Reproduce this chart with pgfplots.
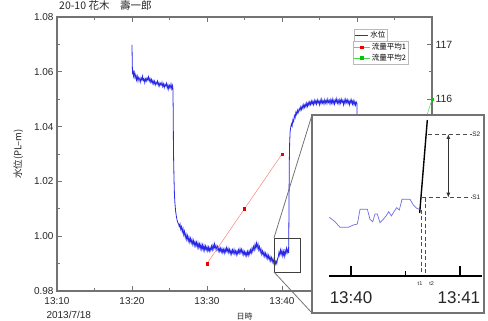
\documentclass[border=0pt]{standalone}
\usepackage{fontspec}
\setmainfont{Liberation Sans}
\newfontfamily\cjk{Noto Sans CJK JP}
\usepackage{pgfplots}
\pgfplotsset{compat=1.18}
\usetikzlibrary{arrows.meta}
\definecolor{axgray}{gray}{0.45}
\definecolor{wblue}{RGB}{40,40,230}
\definecolor{iblue}{RGB}{110,110,235}
\definecolor{fred}{RGB}{235,0,0}
\definecolor{lred}{RGB}{250,130,130}
\definecolor{fgreen}{RGB}{0,200,0}
\pgfplotsset{
  common/.style={
    at={(57pt,30pt)}, anchor=south west,
    width=375pt, height=274pt, scale only axis,
    xmin=0, xmax=50,
    /pgf/number format/assume math mode=true,
    tick label style={font=\fontsize{10}{11}\selectfont, text=black!85},
    axis line style={axgray, line width=1.1pt},
    tick style={axgray, line width=0.8pt},
    major tick length=5pt, minor tick length=3pt,
    legend cell align=left,
  }
}
\begin{document}
\begin{tikzpicture}
\useasboundingbox (0,0) rectangle (488pt,321pt);
\begin{axis}[
  common, name=main,
  ymin=0.98, ymax=1.08,
  xtick={0,10,20,30,40,50},
  xticklabels={13:10,13:20,13:30,13:40,{},{}},
  xticklabel style={yshift=-3pt},
  minor x tick num=1,
  ytick={0.98,1.00,1.02,1.04,1.06,1.08},
  minor y tick num=1,
  ytick pos=left,
  yticklabel style={/pgf/number format/fixed, /pgf/number format/fixed zerofill, /pgf/number format/precision=2},
  ylabel={\cjk 水位(PL–m)},
  ylabel style={font=\fontsize{9.5}{10}\selectfont, text=black!85},
  ylabel shift=4pt,
  xlabel={\cjk 日時},
  xlabel style={at={(rel axis cs:0.5,0)}, anchor=center, yshift=-25.5pt, font=\fontsize{8}{9}\selectfont, text=black!85},
  title={\cjk 20-10 花木　壽一郎},
  title style={at={(rel axis cs:0,1)}, anchor=south west, xshift=1pt, yshift=-1pt, inner sep=1pt, font=\fontsize{10.5}{11}\selectfont, text=black!85},
  legend style={at={(0.792,0.956)}, anchor=north west, draw=axgray!50, line width=0.4pt, font=\cjk\fontsize{7.5}{8}\selectfont, inner sep=0.3pt},
  legend image code/.code={\draw[#1] (0pt,0pt) -- (13pt,0pt);},
]
\addplot[wblue, line width=0.8pt] coordinates {
(10.00,1.0698) (10.03,1.0640) (10.06,1.0600) (10.10,1.0590) (10.15,1.0605) (10.2,1.0585) (10.3,1.0598) (10.4,1.0578) (10.5,1.0590) (10.6,1.0570)
(10.7,1.0584) (10.8,1.0566) (10.9,1.0580) (11.0,1.0575) (11.1,1.0562) (11.2,1.0578) (11.3,1.0570) (11.4,1.0584) (11.5,1.0568) (11.6,1.0575)
(11.7,1.0560) (11.8,1.0574) (11.9,1.0566) (12.0,1.0578) (12.1,1.0570) (12.2,1.0582) (12.3,1.0566) (12.4,1.0576) (12.5,1.0562) (12.6,1.0572)
(12.7,1.0558) (12.8,1.0568) (12.9,1.0556) (13.0,1.0566) (13.1,1.0552) (13.2,1.0562) (13.3,1.0556) (13.4,1.0566) (13.5,1.0550) (13.6,1.0560)
(13.7,1.0548) (13.8,1.0558) (13.9,1.0552) (14.0,1.0562) (14.1,1.0546) (14.2,1.0556) (14.3,1.0542) (14.4,1.0554) (14.5,1.0548) (14.6,1.0558)
(14.7,1.0540) (14.8,1.0552) (14.9,1.0536) (15.0,1.0550) (15.1,1.0542) (15.2,1.0556) (15.3,1.0538) (15.4,1.0550) (15.45,1.0540)
(15.50,1.045) (15.52,1.035) (15.55,1.028) (15.6,1.021) (15.65,1.016) (15.7,1.013) (15.8,1.0095) (15.9,1.0075) (16.0,1.006) (16.1,1.0050)
(16.2,1.0045) (16.3,1.0035) (16.4,1.0045) (16.5,1.0025) (16.6,1.0035) (16.7,1.0015) (16.8,1.0028) (16.9,1.0005) (17.0,1.0018) (17.1,0.9995)
(17.2,1.0008) (17.3,0.9988) (17.4,1.0002) (17.5,0.9982) (17.6,0.9996) (17.7,0.9978) (17.8,0.9992) (17.9,0.9975) (18.0,0.9988) (18.1,0.9970)
(18.2,0.9984) (18.3,0.9966) (18.4,0.9980) (18.5,0.9965) (18.6,0.9978) (18.7,0.9960) (18.8,0.9976) (18.9,0.9958) (19.0,0.9972) (19.1,0.9955)
(19.2,0.9970) (19.3,0.9952) (19.4,0.9968) (19.5,0.9950) (19.6,0.9966) (19.7,0.9948) (19.8,0.9964) (19.9,0.9950) (20.0,0.9962) (20.1,0.9946)
(20.2,0.9960) (20.3,0.9945) (20.4,0.9958) (20.5,0.9948) (20.6,0.9964) (20.7,0.9950) (20.8,0.9968) (20.9,0.9954) (21.0,0.9972) (21.1,0.9955)
(21.2,0.9966) (21.3,0.9950) (21.4,0.9962) (21.5,0.9946) (21.6,0.9958) (21.7,0.9944) (21.8,0.9956) (21.9,0.9942) (22.0,0.9955) (22.1,0.9940)
(22.2,0.9952) (22.3,0.9938) (22.4,0.9954) (22.5,0.9942) (22.6,0.9958) (22.7,0.9944) (22.8,0.9956) (22.9,0.9940) (23.0,0.9952) (23.1,0.9936)
(23.2,0.9948) (23.3,0.9934) (23.4,0.9950) (23.5,0.9938) (23.6,0.9952) (23.7,0.9936) (23.8,0.9946) (23.9,0.9932) (24.0,0.9946) (24.1,0.9934)
(24.2,0.9950) (24.3,0.9938) (24.4,0.9954) (24.5,0.9940) (24.6,0.9952) (24.7,0.9936) (24.8,0.9948) (24.9,0.9932) (25.0,0.9944) (25.1,0.9930)
(25.2,0.9942) (25.3,0.9928) (25.4,0.9944) (25.5,0.9930) (25.6,0.9946) (25.7,0.9934) (25.8,0.9950) (25.9,0.9938) (26.0,0.9956) (26.1,0.9944)
(26.2,0.9962) (26.3,0.9950) (26.4,0.9970) (26.5,0.9956) (26.6,0.9975) (26.7,0.9958) (26.8,0.9972) (26.9,0.9950) (27.0,0.9962) (27.1,0.9942)
(27.2,0.9954) (27.3,0.9934) (27.4,0.9946) (27.5,0.9930) (27.6,0.9942) (27.7,0.9926) (27.8,0.9938) (27.9,0.9922) (28.0,0.9934) (28.1,0.9918)
(28.2,0.9930) (28.3,0.9914) (28.4,0.9926) (28.5,0.9910) (28.6,0.9922) (28.7,0.9906) (28.8,0.9918) (28.9,0.9902) (29.0,0.9914) (29.1,0.9898)
(29.2,0.9910) (29.3,0.9900) (29.4,0.9916) (29.5,0.9924) (29.6,0.9942) (29.7,0.9930) (29.8,0.9950) (29.9,0.9934) (30.0,0.9948) (30.1,0.9928)
(30.2,0.9944) (30.3,0.9926) (30.4,0.9948) (30.5,0.9934) (30.6,0.9956) (30.7,0.9940) (30.8,0.9952) (30.88,0.9938)
(30.92,1.005) (30.95,1.018) (30.98,1.028) (31.02,1.034) (31.08,1.038) (31.15,1.0395) (31.25,1.0410) (31.35,1.0402) (31.45,1.0425) (31.55,1.0418)
(31.65,1.0440) (31.75,1.0432) (31.85,1.0452) (31.95,1.0444) (32.05,1.0460) (32.15,1.0450) (32.3,1.0466) (32.4,1.0458) (32.5,1.0472) (32.6,1.0462)
(32.7,1.0476) (32.8,1.0466) (32.9,1.0480) (33.0,1.0470) (33.1,1.0482) (33.2,1.0472) (33.3,1.0486) (33.4,1.0474) (33.5,1.0488) (33.6,1.0478)
(33.7,1.0490) (33.8,1.0480) (33.9,1.0494) (34.0,1.0482) (34.1,1.0492) (34.2,1.0480) (34.3,1.0496) (34.4,1.0484) (34.5,1.0494) (34.6,1.0482)
(34.7,1.0498) (34.8,1.0486) (34.9,1.0494) (35.0,1.0480) (35.1,1.0496) (35.2,1.0484) (35.3,1.0500) (35.4,1.0486) (35.5,1.0494) (35.6,1.0482)
(35.7,1.0498) (35.8,1.0486) (35.9,1.0496) (36.0,1.0484) (36.1,1.0500) (36.2,1.0488) (36.3,1.0496) (36.4,1.0482) (36.5,1.0498) (36.6,1.0486)
(36.7,1.0500) (36.8,1.0484) (36.9,1.0496) (37.0,1.0482) (37.1,1.0498) (37.2,1.0488) (37.3,1.0502) (37.4,1.0486) (37.5,1.0496) (37.6,1.0482)
(37.7,1.0498) (37.8,1.0486) (37.9,1.0500) (38.0,1.0488) (38.1,1.0496) (38.2,1.0480) (38.3,1.0496) (38.4,1.0484) (38.5,1.0500) (38.6,1.0488)
(38.7,1.0498) (38.8,1.0484) (38.9,1.0494) (39.0,1.0480) (39.1,1.0496) (39.2,1.0486) (39.3,1.0498) (39.4,1.0482) (39.5,1.0494) (39.6,1.0480)
(39.7,1.0492) (39.8,1.0478) (39.9,1.0490) (40.0,1.0484) (40.02,1.040) (40.05,1.000)
};
\addlegendentry{水位}
\draw[black!75, line width=0.8pt] (axis cs:28.93,0.98693) rectangle (axis cs:32.4,0.99934);
\coordinate (rtl) at (axis cs:28.93,0.99934);
\coordinate (rbl) at (axis cs:28.93,0.98693);
\end{axis}
\node[anchor=west, font=\fontsize{10}{11}\selectfont, text=black!85] at ([xshift=-14pt, yshift=-23.5pt]main.south west) {2013/7/18};
\begin{axis}[
  common,
  ymin=112.5, ymax=117.5,
  axis x line=none, axis y line*=right,
  ytick={113,114,115,116,117}, minor y tick num=1,
  tick label style={font=\fontsize{10.5}{11}\selectfont},
  clip=false,
  legend style={at={(0.789,0.912)}, anchor=north west, draw=axgray!50, line width=0.4pt, font=\cjk\fontsize{7.5}{8}\selectfont, inner sep=0.3pt, row sep=-1.5pt},
  legend image code/.code={\draw[mark repeat=2,mark phase=2,#1] plot coordinates {(0pt,0pt) (8pt,0pt) (16pt,0pt)};},
]
\addplot[lred, line width=0.5pt, mark=square*, mark size=1.2pt, mark options={draw=fred, fill=fred}] coordinates {(20,113) (25,114) (30,115)};
\addlegendentry{流量平均1}
\addplot[fgreen!70, line width=0.5pt, mark=square*, mark size=1.2pt, mark options={draw=fgreen, fill=fgreen}] coordinates {(47.7,115) (50,116)};
\addlegendentry{流量平均2}
\end{axis}
\begin{axis}[
  name=inset, at={(312pt,8pt)}, anchor=south west,
  width=172pt, height=198pt, scale only axis,
  xmin=-0.358, xmax=1.220, ymin=0, ymax=198,
  xtick=\empty, ytick=\empty,
  axis background/.style={fill=white},
  axis line style={axgray, line width=1.1pt},
  clip=false,
]
\addplot[iblue, line width=0.7pt] coordinates {
(-0.199,95.7) (-0.147,91.3) (-0.101,85.7) (-0.025,85.7) (0.021,88) (0.058,89) (0.083,103.7) (0.150,103.7) (0.174,93.7) (0.199,91.3)
(0.220,99) (0.241,99) (0.266,90.3) (0.291,93) (0.321,97) (0.346,101.3) (0.370,97) (0.394,101.3) (0.419,105.3) (0.443,103)
(0.468,113.7) (0.541,113.7) (0.572,108) (0.603,104.7) (0.627,103.7)
};
\addplot[black!70, line width=0.8pt, dash pattern=on 4pt off 2.5pt] coordinates {(0.642,103) (0.642,37)};
\addplot[black!70, line width=0.8pt, dash pattern=on 4pt off 2.5pt] coordinates {(0.686,115) (0.686,37)};
\addplot[black!70, line width=0.8pt, dash pattern=on 4pt off 3pt] coordinates {(0.706,179) (1.107,179)};
\addplot[black!70, line width=0.8pt, dash pattern=on 4pt off 3pt] coordinates {(0.650,115.3) (1.107,115.3)};
\addplot[black, line width=1.4pt] coordinates {(0.630,100) (0.700,193)};
\addplot[black!80, line width=0.9pt, {Latex[length=5pt,width=4pt]}-{Latex[length=5pt,width=4pt]}] coordinates {(0.893,115.3) (0.893,179)};
\addplot[black, line width=1.6pt] coordinates {(-0.2,37) (1.2,37)};
\addplot[black, line width=1.1pt] coordinates {(0,37) (0,47)};
\addplot[black, line width=1.1pt] coordinates {(1,37) (1,47)};
\addplot[black, line width=1.1pt] coordinates {(0.5,37) (0.5,42)};
\node[font=\fontsize{17}{18}\selectfont, text=black!85] at (axis cs:0,15) {13:40};
\node[font=\fontsize{17}{18}\selectfont, text=black!85] at (axis cs:0.99,15) {13:41};
\node[font=\fontsize{5.5}{6}\selectfont, text=black!85, inner sep=0pt] at (axis cs:0.633,29) {t1};
\node[font=\fontsize{5.5}{6}\selectfont, text=black!85, inner sep=0pt] at (axis cs:0.740,29) {t2};
\node[anchor=west, font=\fontsize{6.5}{7}\selectfont, text=black!85, inner sep=0.5pt] at (axis cs:1.107,179) {S2};
\node[anchor=west, font=\fontsize{6.5}{7}\selectfont, text=black!85, inner sep=0.5pt] at (axis cs:1.107,115.3) {S1};
\end{axis}
\draw[axgray, line width=0.8pt] (rtl) -- (inset.north west);
\draw[axgray, line width=0.8pt] (rbl) -- (inset.south west);
\end{tikzpicture}
\end{document}
